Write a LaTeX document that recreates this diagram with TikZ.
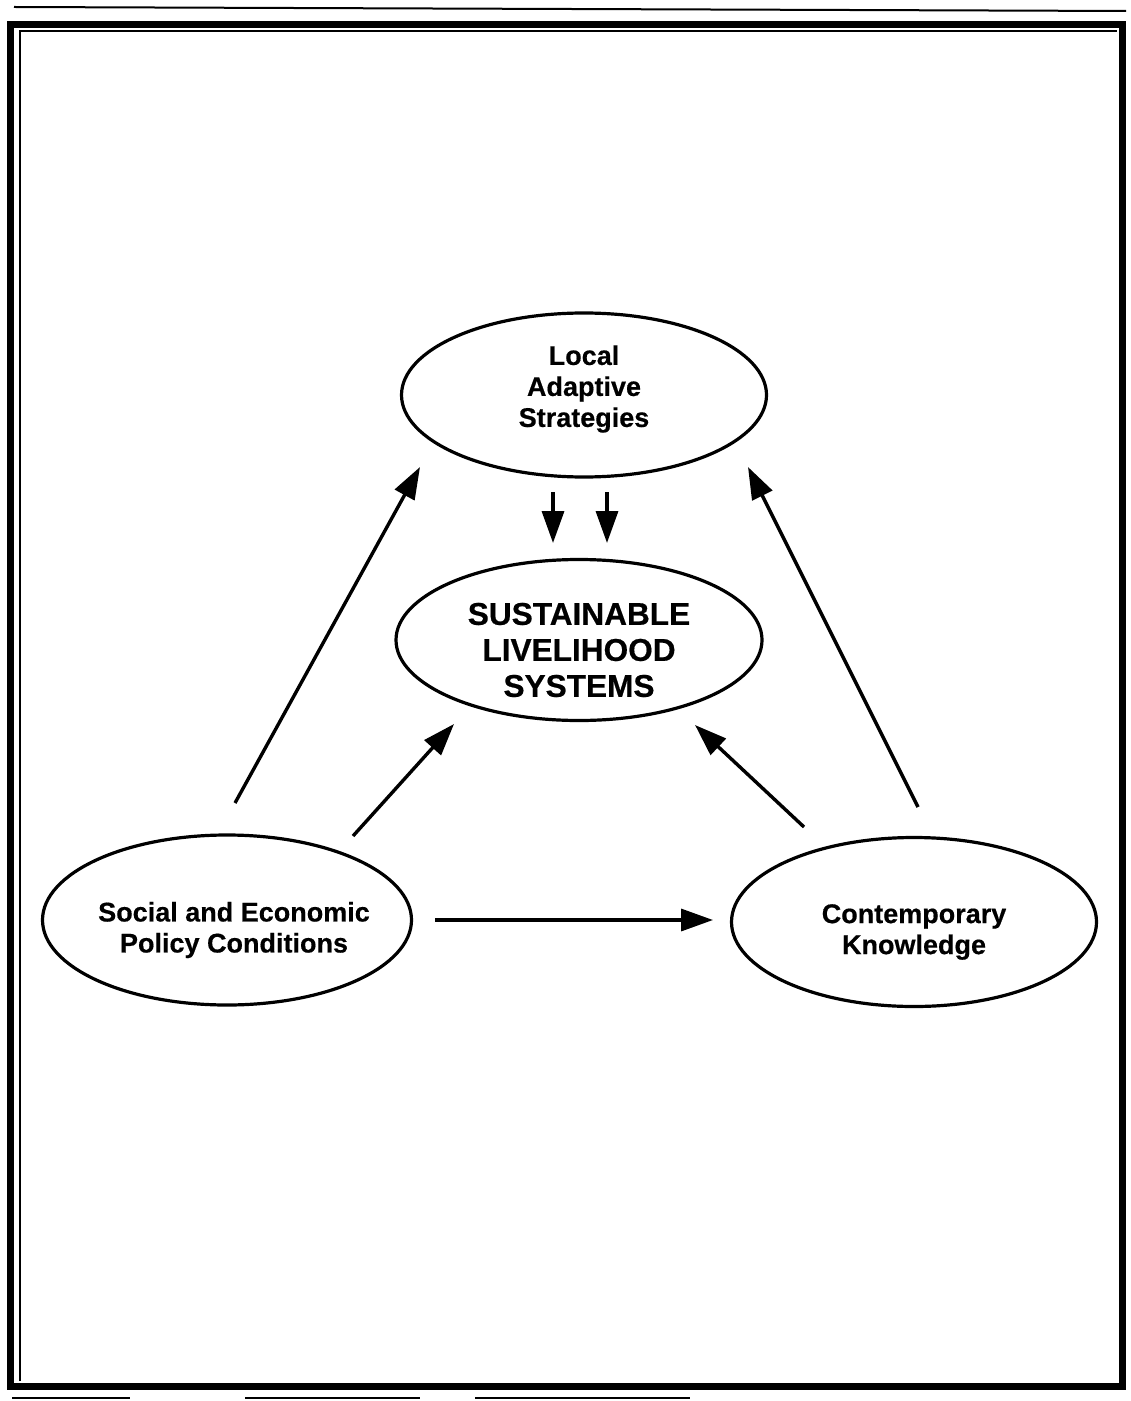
\documentclass[tikz,border=0pt]{standalone}
\usepackage{fontspec}
\setmainfont{Liberation Sans}[BoldFeatures={FakeBold=0.5}]
\usetikzlibrary{arrows.meta,shapes.geometric}
\begin{document}
\begin{tikzpicture}[x=0.5pt,y=-0.5pt,
  ell/.style={draw, ellipse, line width=1.6pt, inner sep=0pt},
  lbl/.style={font=\bfseries\fontsize{13.5}{15.5}\selectfont, align=center},
  big/.style={font=\bfseries\fontsize{15.8}{18}\selectfont, align=center},
  arr/.style={line width=1.7pt, -{Triangle[length=16pt,width=11pt]}},
  frame/.style={line width=3.5pt},
  thinframe/.style={line width=0.75pt}
]
\useasboundingbox (0,0) rectangle (1130,1401);
% frame
\draw[frame] (10,25) rectangle (1122,1386);
\draw[thinframe] (20,1381) -- (20,31) -- (1117,31);
\draw[line width=1pt] (14,7) -- (1126,11);
\draw[line width=0.6pt] (12,1398) -- (130,1398) (245,1398) -- (420,1398) (475,1398) -- (690,1398);
% nodes
\node[ell, minimum width=182.5pt, minimum height=82pt,
  label={[lbl,yshift=3pt]center:{Local\\Adaptive\\Strategies}}] (loc) at (584,395) {};
\node[ell, minimum width=183pt, minimum height=80.5pt,
  label={[big,yshift=-5pt]center:{SUSTAINABLE\\LIVELIHOOD\\SYSTEMS}}] (sus) at (579,640) {};
\node[ell, minimum width=184.5pt, minimum height=85pt,
  label={[lbl,xshift=3.5pt,yshift=-5pt]center:{Social and Economic\\Policy Conditions}}] (soc) at (227,920) {};
\node[ell, minimum width=182.5pt, minimum height=84.5pt,
  label={[lbl,yshift=-5pt]center:{Contemporary\\Knowledge}}] (con) at (914,922) {};
% connectors
\draw[arr] ([shift={(8,-117)}]soc.center) -- ([shift={(-164,72)}]loc.center);
\draw[arr] ([shift={(126,-84)}]soc.center) -- ([shift={(-125,84)}]sus.center);
\draw[arr] ([shift={(208,0)}]soc.center) -- ([shift={(-201,-2)}]con.center);
\draw[arr] ([shift={(-110,-95)}]con.center) -- ([shift={(116,85)}]sus.center);
\draw[arr] ([shift={(4,-115)}]con.center) -- ([shift={(164,72)}]loc.center);
\draw[arr] ([shift={(-31,97)}]loc.center) -- ([shift={(-26,-97)}]sus.center);
\draw[arr] ([shift={(23,97)}]loc.center) -- ([shift={(28,-97)}]sus.center);
\end{tikzpicture}
\end{document}
